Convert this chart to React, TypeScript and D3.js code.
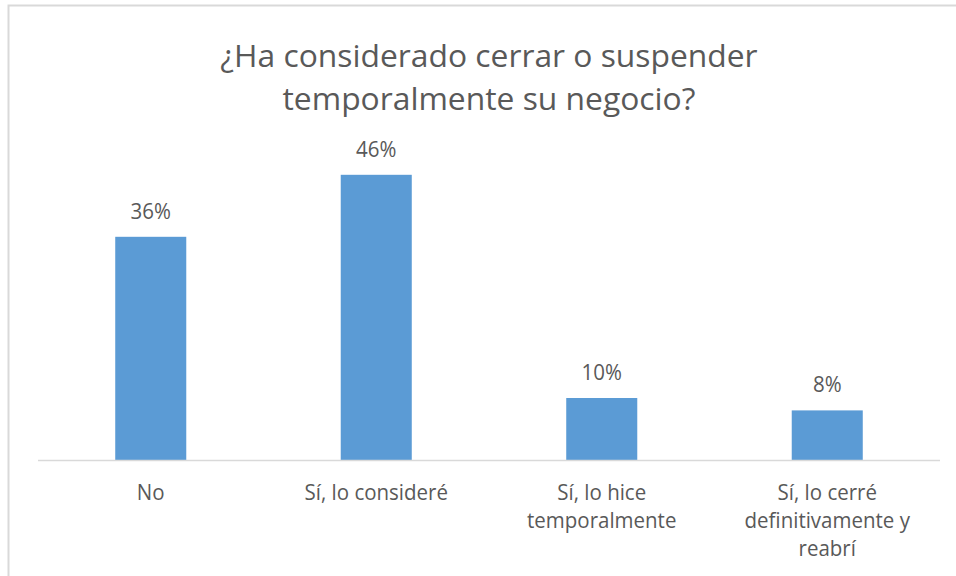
import React from "react";
import * as d3 from "d3";

const categories: string[][] = [
  ["No"],
  ["Sí, lo consideré"],
  ["Sí, lo hice", "temporalmente"],
  ["Sí, lo cerré", "definitivamente y", "reabrí"],
];
const values: number[] = [36, 46, 10, 8];
const titleLines: string[] = ["¿Ha considerado cerrar o suspender", "temporalmente su negocio?"];

const W = 956;
const H = 576;
const plotLeft = 38;
const plotRight = 940;
const plotTop = 150;
const plotBottom = 460;
const stretch = 1.1;

function stretchAt(by: number) {
  return `translate(0,${by}) scale(1,${stretch}) translate(0,${-by})`;
}

export default function App() {
  const keys = categories.map((c) => c.join(" "));
  const x = d3
    .scaleBand<string>()
    .domain(keys)
    .range([plotLeft, plotRight])
    .paddingInner(0.685)
    .paddingOuter(0.3425);
  const y = d3.scaleLinear().domain([0, 50]).range([plotBottom, plotTop]);
  const font = "'Open Sans', sans-serif";
  const textColor = "#595959";

  return (
    <svg
      width={W}
      height={H}
      style={{ position: "absolute", left: 0, top: 0, background: "#fff" }}
    >
      <rect x={0} y={0} width={W} height={H} fill="#fff" />
      <path d={`M8.5,${H + 5} V5.5 H${W + 5}`} fill="none" stroke="#D9D9D9" strokeWidth={2} />
      {titleLines.map((t, i) => (
        <text
          key={i}
          x={(plotLeft + plotRight) / 2}
          y={67 + i * 43}
          textAnchor="middle"
          fontFamily={font}
          fontSize={31.8}
          fill={textColor}
        >
          {t}
        </text>
      ))}
      {values.map((v, i) => (
        <rect
          key={i}
          x={x(keys[i])}
          y={y(v)}
          width={x.bandwidth()}
          height={y(0) - y(v)}
          fill="#5B9BD5"
        />
      ))}
      <line
        x1={plotLeft}
        x2={plotRight}
        y1={plotBottom + 0.5}
        y2={plotBottom + 0.5}
        stroke="#D9D9D9"
        strokeWidth={1.5}
      />
      {values.map((v, i) => (
        <text
          key={i}
          x={(x(keys[i]) as number) + x.bandwidth() / 2}
          y={y(v) - 18}
          transform={stretchAt(y(v) - 18)}
          textAnchor="middle"
          fontFamily={font}
          fontSize={20.5}
          fill={textColor}
        >
          {`${v}%`}
        </text>
      ))}
      {categories.map((lines, i) =>
        lines.map((l, j) => (
          <text
            key={`${i}-${j}`}
            x={(x(keys[i]) as number) + x.bandwidth() / 2}
            y={500 + j * 28}
            transform={stretchAt(500 + j * 28)}
            textAnchor="middle"
            fontFamily={font}
            fontSize={20.5}
            fill={textColor}
          >
            {l}
          </text>
        ))
      )}
    </svg>
  );
}
